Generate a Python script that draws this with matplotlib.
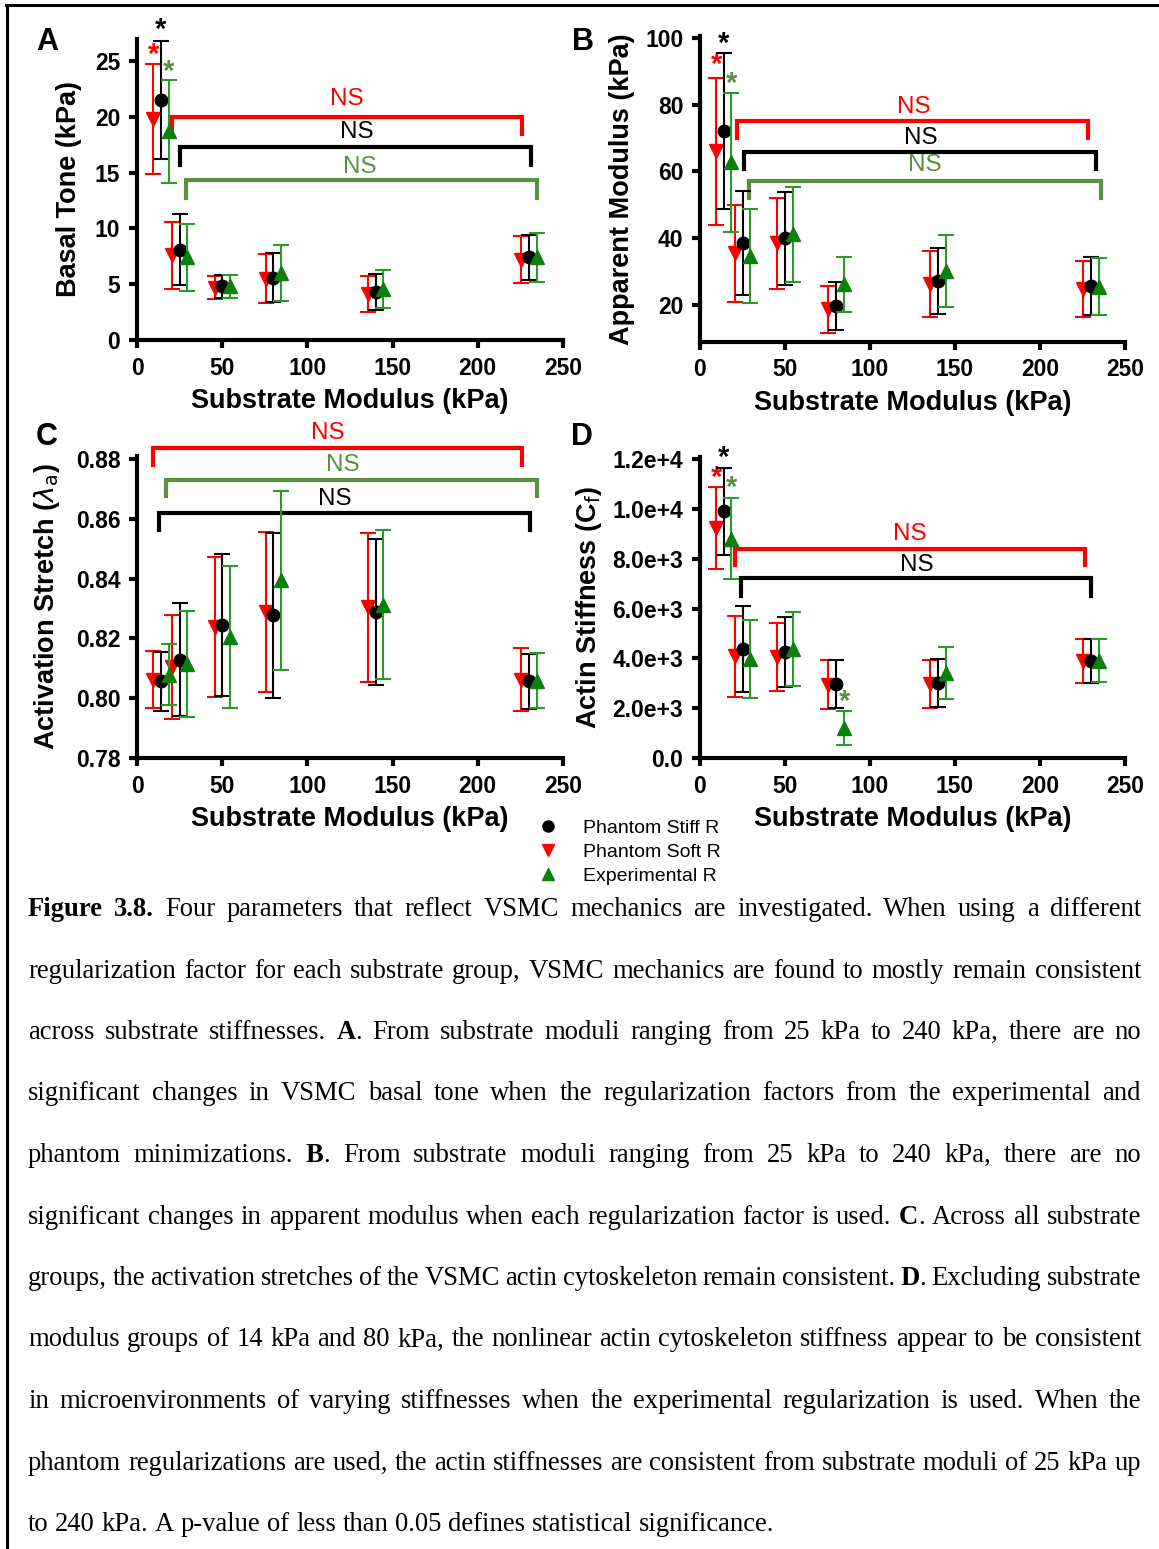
import re
import matplotlib
matplotlib.use('Agg')
import matplotlib.pyplot as plt
from matplotlib.lines import Line2D

W, H = 1159, 1549

# substrate groups (kPa) and the three regularisation series
groups = [14, 25, 50, 80, 140, 230]
series = ['Phantom Stiff R', 'Phantom Soft R', 'Experimental R']

# A: basal tone (kPa)
a_stiff = [21.5, 8.1, 4.8, 5.6, 4.3, 7.4]
a_stiff_err = [5.3, 3.2, 1.0, 2.2, 1.6, 2.0]
a_soft = [19.8, 7.6, 4.7, 5.5, 4.1, 7.2]
a_soft_err = [4.9, 3.0, 1.0, 2.2, 1.6, 2.1]
a_exp = [18.7, 7.4, 4.8, 6.0, 4.6, 7.4]
a_exp_err = [4.6, 3.0, 1.0, 2.5, 1.7, 2.2]

# B: apparent modulus (kPa)
b_stiff = [72.2, 38.5, 40.0, 19.7, 27.2, 25.7]
b_stiff_err = [23.3, 15.6, 13.9, 7.2, 9.9, 8.6]
b_soft = [66.0, 35.5, 38.5, 18.7, 26.4, 24.7]
b_soft_err = [22.0, 14.6, 13.6, 7.1, 9.9, 8.4]
b_exp = [62.7, 34.7, 41.2, 26.2, 30.2, 25.5]
b_exp_err = [20.8, 14.0, 14.2, 8.3, 10.7, 8.5]

# C: activation stretch
c_stiff = [0.8056, 0.8129, 0.8246, 0.8277, 0.8288, 0.8056]
c_stiff_err = [0.0098, 0.0188, 0.0237, 0.0275, 0.0245, 0.0093]
c_soft = [0.8062, 0.8103, 0.8238, 0.8288, 0.8304, 0.8062]
c_soft_err = [0.0096, 0.0174, 0.0235, 0.0267, 0.0249, 0.0105]
c_exp = [0.8079, 0.8114, 0.8204, 0.8394, 0.8313, 0.8059]
c_exp_err = [0.0103, 0.0177, 0.0237, 0.0300, 0.0248, 0.0092]

# D: actin stiffness (C_f)
d_stiff = [9900, 4375, 4254, 2970, 3010, 3880]
d_stiff_err = [1750, 1710, 1390, 950, 950, 880]
d_soft = [9231, 4080, 4053, 2943, 2970, 3880]
d_soft_err = [1650, 1620, 1350, 980, 950, 880]
d_exp = [8803, 3987, 4375, 1204, 3411, 3906]
d_exp_err = [1620, 1570, 1470, 680, 1040, 860]

RED = '#ff0000'
GRN_M = '#0b800b'
GRN_E = '#2a9a2a'
OLIVE = '#5a9140'
off = 4.5

plt.rcParams['font.family'] = 'Liberation Sans'

fig = plt.figure(figsize=(W / 100, H / 100), dpi=100)


def px_axes(l, r, top, bottom):
    return fig.add_axes([l / W, 1 - bottom / H, (r - l) / W, (bottom - top) / H])


def style(ax, ylim, yticks, ylabel, ytl=None, lpad=6):
    ax.set_xlim(0, 250)
    ax.set_ylim(*ylim)
    ax.set_xticks([0, 50, 100, 150, 200, 250])
    ax.set_yticks(yticks)
    if ytl is not None:
        ax.set_yticklabels(ytl)
    for s in ['top', 'right']:
        ax.spines[s].set_visible(False)
    for s in ['left', 'bottom']:
        ax.spines[s].set_linewidth(3)
    ax.tick_params(direction='out', length=6, width=3, labelsize=16.5, pad=6)
    for lab in ax.get_xticklabels() + ax.get_yticklabels():
        lab.set_fontweight('bold')
    ax.set_xlabel('Substrate Modulus (kPa)', fontsize=19.5, fontweight='bold', labelpad=6)
    ax.set_ylabel(ylabel, fontsize=19.5, fontweight='bold', labelpad=lpad)
    ax.set_facecolor('none')


def plot_panel(ax, stiff, stiff_e, soft, soft_e, exp, exp_e):
    xs = [g - off for g in groups]
    ax.errorbar(xs, soft, yerr=soft_e, fmt='v', color=RED, ms=10, ecolor=RED,
                elinewidth=1.5, capsize=6, capthick=1.5, clip_on=False, zorder=3)
    ax.errorbar(groups, stiff, yerr=stiff_e, fmt='o', color='black', ms=9, ecolor='black',
                elinewidth=1.5, capsize=6, capthick=1.5, clip_on=False, zorder=4)
    xs = [g + off for g in groups]
    ax.errorbar(xs, exp, yerr=exp_e, fmt='^', color=GRN_M, ms=10, ecolor=GRN_E,
                elinewidth=1.5, capsize=6, capthick=1.5, clip_on=False, zorder=5)


def bracket(ax, x0, x1, y, drop, color, tx, ty):
    ax.plot([x0, x0, x1, x1], [y - drop, y, y, y - drop], color=color, lw=3,
            clip_on=False, solid_joinstyle='miter', zorder=2)
    ax.text(tx, ty, 'NS', color=color, fontsize=17.5, ha='center', va='center', clip_on=False)


def star(ax, x, y, color):
    ax.text(x, y, '*', color=color, fontsize=21, fontweight='bold', ha='center',
            va='center', clip_on=False)


# ---- A
axA = px_axes(137, 563, 340 - 27 * 11.16, 340)
plot_panel(axA, a_stiff, a_stiff_err, a_soft, a_soft_err, a_exp, a_exp_err)
style(axA, (0, 27), [0, 5, 10, 15, 20, 25], 'Basal Tone (kPa)', lpad=9)
bracket(axA, 20.6, 226, 20.0, 1.5, RED, 123, 21.6)
bracket(axA, 25, 231, 17.3, 1.6, 'black', 129, 18.6)
bracket(axA, 29, 235, 14.3, 1.6, OLIVE, 131, 15.5)
star(axA, 14, 27.8, 'black')
star(axA, 9.5, 25.5, RED)
star(axA, 18.5, 24.0, OLIVE)

# ---- B
axB = px_axes(700, 1125, 38 - 0.7 * 3.3375, 38 + 91 * 3.3375)
plot_panel(axB, b_stiff, b_stiff_err, b_soft, b_soft_err, b_exp, b_exp_err)
style(axB, (9, 100.7), [20, 40, 60, 80, 100], 'Apparent Modulus (kPa)', lpad=7)
bracket(axB, 22, 228, 75, 5, RED, 126, 79.2)
bracket(axB, 26, 233, 65.7, 5, 'black', 130, 70)
bracket(axB, 29, 236, 57.2, 5, OLIVE, 132, 61.9)
star(axB, 14, 98.2, 'black')
star(axB, 9.5, 91.8, RED)
star(axB, 18.5, 86.1, OLIVE)

# ---- C
axC = px_axes(137, 563, 459 - 0.001 * 2990, 758)
plot_panel(axC, c_stiff, c_stiff_err, c_soft, c_soft_err, c_exp, c_exp_err)
style(axC, (0.78, 0.881), [0.78, 0.80, 0.82, 0.84, 0.86, 0.88],
      r'Activation Stretch ($\lambda_\mathrm{a}$)',
      ytl=['0.78', '0.80', '0.82', '0.84', '0.86', '0.88'], lpad=10)
bracket(axC, 9.5, 226, 0.8837, 0.0058, RED, 112, 0.8887)
bracket(axC, 17.3, 234.8, 0.8731, 0.0056, OLIVE, 120.7, 0.8779)
bracket(axC, 13, 230.5, 0.8620, 0.0056, 'black', 116, 0.8667)

# ---- D
axD = px_axes(700, 1125, 459 - 100 * 299 / 12000, 758)
plot_panel(axD, d_stiff, d_stiff_err, d_soft, d_soft_err, d_exp, d_exp_err)
style(axD, (0, 12100), [0, 2000, 4000, 6000, 8000, 10000, 12000], r'Actin Stiffness (C$_\mathrm{f}$)',
      ytl=['0.0', '2.0e+3', '4.0e+3', '6.0e+3', '8.0e+3', '1.0e+4', '1.2e+4'], lpad=6)
bracket(axD, 20.8, 226.5, 8401, 640, RED, 123.7, 8990)
bracket(axD, 24.2, 229.9, 7224, 740, 'black', 127.5, 7759)
star(axD, 14, 12050, 'black')
star(axD, 9.5, 11250, RED)
star(axD, 18.5, 10850, OLIVE)
star(axD, 85, 2250, OLIVE)

# panel letters
for lab, x, y in [('A', 47, 42), ('B', 583, 42), ('C', 47, 437), ('D', 582, 437)]:
    fig.text(x / W, 1 - y / H, lab, fontsize=22, fontweight='bold', ha='center', va='center')

# legend
handles = [Line2D([], [], ls='none', marker='o', color='black', ms=8),
           Line2D([], [], ls='none', marker='v', color=RED, ms=9),
           Line2D([], [], ls='none', marker='^', color=GRN_M, ms=9)]
fig.legend(handles, series, loc='upper left', bbox_to_anchor=(538 / W, 1 - 819 / H),
           frameon=False, fontsize=14, handlelength=1.0, handletextpad=1.3,
           labelspacing=0.33, borderpad=0, borderaxespad=0)

# border (top and left)
fig.add_artist(Line2D([6 / W, 1], [1 - 5 / H, 1 - 5 / H], color='black', lw=2.2))
fig.add_artist(Line2D([7 / W, 7 / W], [0, 1 - 5 / H], color='black', lw=2.2))

# caption, justified
caption = [
    "**Figure** **3.8.** Four parameters that reflect VSMC mechanics are investigated. When using a different",
    "regularization factor for each substrate group, VSMC mechanics are found to mostly remain consistent",
    "across substrate stiffnesses. **A**. From substrate moduli ranging from 25 kPa to 240 kPa, there are no",
    "significant changes in VSMC basal tone when the regularization factors from the experimental and",
    "phantom minimizations. **B**. From substrate moduli ranging from 25 kPa to 240 kPa, there are no",
    "significant changes in apparent modulus when each regularization factor is used. **C**. Across all substrate",
    "groups, the activation stretches of the VSMC actin cytoskeleton remain consistent. **D**. Excluding substrate",
    "modulus groups of 14 kPa and 80 kPa, the nonlinear actin cytoskeleton stiffness appear to be consistent",
    "in microenvironments of varying stiffnesses when the experimental regularization is used. When the",
    "phantom regularizations are used, the actin stiffnesses are consistent from substrate moduli of 25 kPa up",
    "to 240 kPa. A p-value of less than 0.05 defines statistical significance.",
]
cap_fs = 19.2
left, right = 28, 1141
r = fig.canvas.get_renderer()


def draw_line(text, base, justify):
    words = []
    for w in text.split(' '):
        segs = []
        for part in re.split(r'(\*\*.+?\*\*)', w):
            if not part:
                continue
            b = part.startswith('**')
            t = fig.text(0, 1 - base / H, part.strip('*'), fontsize=cap_fs,
                         family='Liberation Serif', fontweight='bold' if b else 'normal',
                         va='baseline', ha='left')
            segs.append((t, t.get_window_extent(r).width))
        words.append(segs)
    total = sum(wd for segs in words for _, wd in segs)
    gap = (right - left - total) / (len(words) - 1) if justify else cap_fs * 100 / 72 * 0.25
    x = left
    for segs in words:
        for t, wd in segs:
            t.set_x(x / W)
            x += wd
        x += gap


for i, line in enumerate(caption):
    draw_line(line, 916 + i * 61.5, i < len(caption) - 1)

fig.savefig('out.png', dpi=100)
